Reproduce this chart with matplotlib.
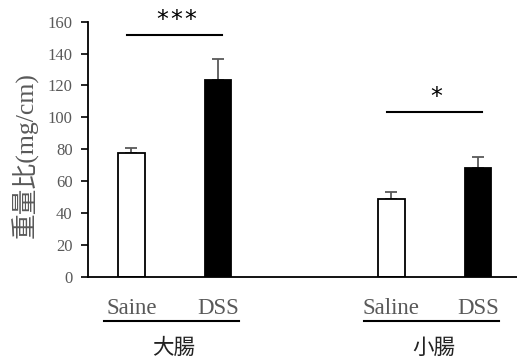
import matplotlib
matplotlib.use("Agg")
import matplotlib.pyplot as plt
import matplotlib.transforms as mtransforms

# 重量比 (mg/cm): 大腸 / 小腸, Saline vs DSS
positions = [0, 1, 3, 4]
tick_labels = ["Saine", "DSS", "Saline", "DSS"]
means = [77.5, 123.5, 48.5, 68.0]
errs = [3.5, 13.0, 4.5, 7.0]
fills = ["white", "black", "white", "black"]
groups = ["大腸", "小腸"]
group_pos = [0.5, 3.5]
sig_stars = [3, 1]
sig_pairs = [(0, 1), (3, 4)]
sig_heights = [151.5, 103.5]

GRAY = "#595959"
SERIF = ["Liberation Serif", "Noto Sans CJK JP"]
CJK = ["Noto Sans CJK JP", "Liberation Serif"]

fig = plt.figure(figsize=(5.17, 3.6), dpi=100)
ax = fig.add_axes([88 / 517, 0.2314, 429 / 517, 0.7083])

ax.bar(positions, means, width=0.31, color=fills, edgecolor="black",
       linewidth=1.3, zorder=2)
ax.errorbar(positions, means, yerr=[[0] * len(errs), errs], fmt="none",
            ecolor=GRAY, elinewidth=1.3, capsize=4, capthick=1.3, zorder=1)

ax.set_xlim(-0.5, 4.45)
ax.set_ylim(0, 160)
ax.set_yticks(range(0, 161, 20))
ax.set_xticks(positions)
ax.set_xticklabels(tick_labels, family=SERIF, fontsize=16.5, color=GRAY)
ax.tick_params(axis="x", length=0, pad=15)
ax.tick_params(axis="y", direction="out", length=5, width=1.2, labelsize=12,
               labelcolor=GRAY, pad=6)
for lbl in ax.get_yticklabels():
    lbl.set_family(SERIF)

for side in ["top", "right"]:
    ax.spines[side].set_visible(False)
for side in ["left", "bottom"]:
    ax.spines[side].set_linewidth(1.3)
    ax.spines[side].set_color("black")

# significance bars, stars spaced a little apart
for (a, b), h, n in zip(sig_pairs, sig_heights, sig_stars):
    ax.plot([a - 0.045, b + 0.045], [h, h], color="black", lw=1.5,
            clip_on=False)
    mid = (a + b) / 2 + 0.02
    for k in range(n):
        ax.text(mid + (k - (n - 1) / 2) * 0.165, h + 9.5, "*", ha="center",
                va="center", fontsize=17, family="DejaVu Sans", clip_on=False)

# group underline and name below the tick labels
trans = mtransforms.blended_transform_factory(ax.transData, ax.transAxes)
for (a, b), gx, name in zip(sig_pairs, group_pos, groups):
    ax.plot([a - 0.32, b + 0.24], [-0.1725, -0.1725], color="black", lw=1.5,
            transform=trans, clip_on=False)
    ax.text(gx - 0.01, -0.281, name, transform=trans, ha="center",
            va="center", fontsize=15.5, family=CJK, color="#222222")

ax.text(-0.147, 0.477, "重量比(mg/cm)", transform=ax.transAxes, rotation=90,
        ha="center", va="center", fontsize=18.5, family=SERIF, color=GRAY)

fig.savefig("out.png", dpi=100)
